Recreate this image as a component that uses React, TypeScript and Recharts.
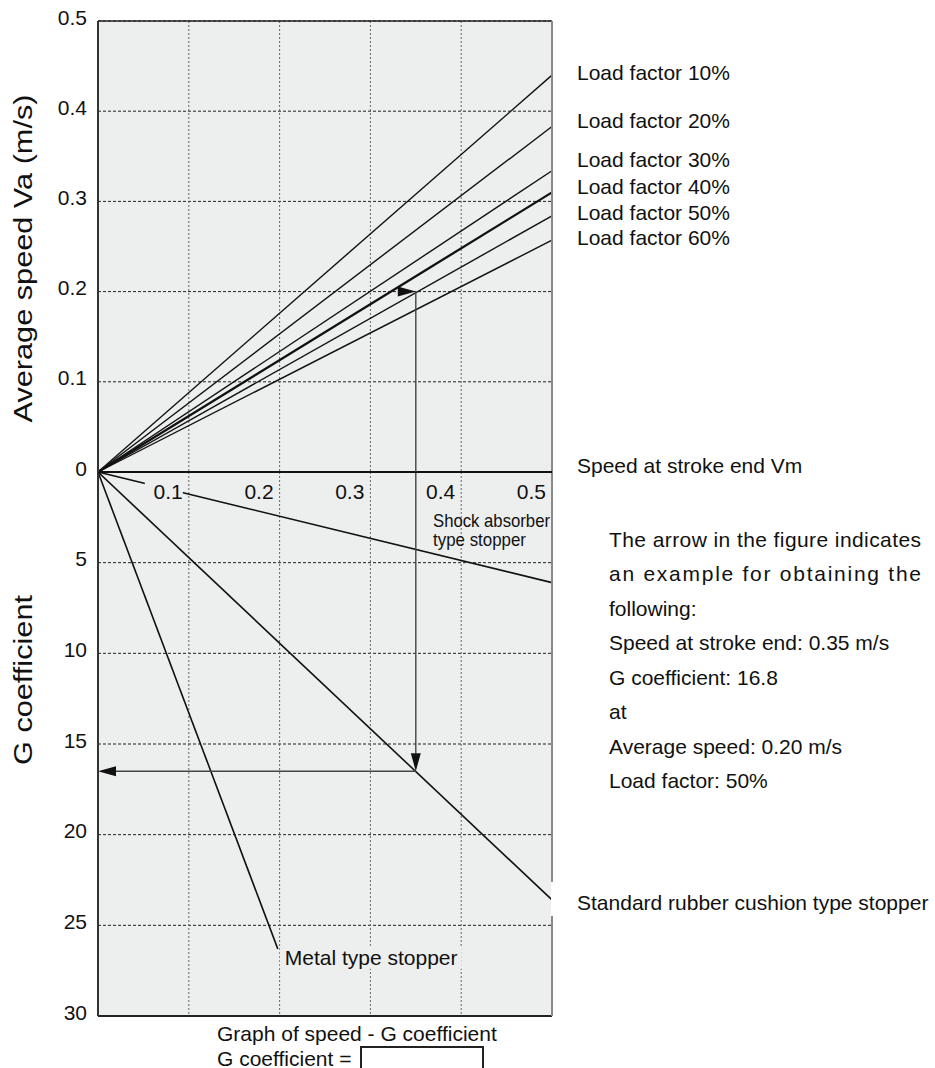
import React from "react";
import {
  ComposedChart,
  Line,
  XAxis,
  YAxis,
  CartesianGrid,
  ReferenceLine,
  ReferenceDot,
  Label,
} from "recharts";

const FONT = '"Liberation Sans", Arial, Helvetica, sans-serif';
const PLOT_BG = "#edeeee";

// speed at stroke end Vm (m/s), shared x axis
const vmTicks = [0.1, 0.2, 0.3, 0.4, 0.5];
// upper half: average speed Va (m/s)
const vaTicks = [0, 0.1, 0.2, 0.3, 0.4, 0.5];
// lower half: G coefficient
const gTicks = [5, 10, 15, 20, 25, 30];

const loadFactors = ["10%", "20%", "30%", "40%", "50%", "60%"];
// Va at Vm = 0.5
const vaAtVmEnd = [0.44, 0.383, 0.334, 0.31, 0.284, 0.257];
// Va level where each "Load factor" name is written
const loadLabelVa = [0.443, 0.39, 0.346, 0.316, 0.288, 0.26];

const stopperNames = ["Shock absorber type stopper", "Standard rubber cushion type stopper", "Metal type stopper"];
const stopperEndVm = [0.5, 0.5, 0.198];
const stopperEndG = [6.1, 23.6, 26.3];

// worked example (arrows)
const exVm = 0.35;
const exVa = 0.2;
const exG = 16.5;

const noteLines = [
  "The arrow in the figure indicates",
  "an example for obtaining the",
  "following:",
  "Speed at stroke end: 0.35 m/s",
  "G coefficient: 16.8",
  "at",
  "Average speed: 0.20 m/s",
  "Load factor: 50%",
];

const loadSeries = loadFactors.map((lf, i) => ({
  name: "Load factor " + lf,
  data: [
    { vm: 0, v: 0 },
    { vm: 0.5, v: vaAtVmEnd[i] },
  ],
}));

const stopperSeries = stopperNames.map((name, i) => ({
  name,
  data: [
    { vm: 0, v: 0 },
    { vm: stopperEndVm[i], v: stopperEndG[i] },
  ],
}));

const textStyle = { fontFamily: FONT, fontSize: 21, fill: "#111" };

const YTick = (p: any) => {
  const v = p.payload.value;
  const s = v === 0 ? "0" : v < 1 ? v.toFixed(1) : String(v);
  return (
    <text x={p.x} y={p.y - 4} textAnchor="end" dominantBaseline="central" {...textStyle}>
      {s}
    </text>
  );
};

const XTick = (p: any) => {
  const s = p.payload.value.toFixed(1);
  return (
    <g>
      <rect x={p.x - 44} y={p.y - 11} width={38} height={22} fill={PLOT_BG} />
      <text x={p.x - 6} y={p.y} textAnchor="end" dominantBaseline="central" {...textStyle}>
        {s}
      </text>
    </g>
  );
};

const axisTitle = (text: string, shift: number, len: number) => (p: any) => {
  const vb = p.viewBox || {};
  const cx = vb.x + 23;
  const cy = vb.y + vb.height / 2 + shift;
  return (
    <text
      x={cx}
      y={cy}
      transform={`rotate(-90 ${cx} ${cy})`}
      textAnchor="middle"
      dominantBaseline="central"
      fontFamily={FONT}
      fontSize={25}
      fill="#111"
      textLength={len}
      lengthAdjust="spacingAndGlyphs"
    >
      {text}
    </text>
  );
};

const arrowShape = (withLine: boolean) => (p: any) => {
  const { x1, y1, x2, y2 } = p;
  const len = Math.hypot(x2 - x1, y2 - y1) || 1;
  const ux = (x2 - x1) / len;
  const uy = (y2 - y1) / len;
  const hl = 18;
  const hw = 5;
  const bx = x2 - ux * hl;
  const by = y2 - uy * hl;
  return (
    <g>
      {withLine && <line x1={x1} y1={y1} x2={bx} y2={by} stroke="#444" strokeWidth={1.4} />}
      <polygon
        points={`${x2},${y2} ${bx - uy * hw},${by + ux * hw} ${bx + uy * hw},${by - ux * hw}`}
        fill="#111"
      />
    </g>
  );
};

const sideLabel = (text: string, dx: number, dy: number, bg?: { x: number; y: number; w: number; h: number; fill: string }) =>
  (p: any) => {
    const vb = p.viewBox || {};
    const x = vb.x + (vb.width || 0) / 2;
    const y = vb.y + (vb.height || 0) / 2;
    return (
      <g>
        {bg && <rect x={x + bg.x} y={y + bg.y} width={bg.w} height={bg.h} fill={bg.fill} />}
        <text x={x + dx} y={y + dy} dominantBaseline="central" {...textStyle}>
          {text}
        </text>
      </g>
    );
  };

const lineEndLabel = (text: string, dx: number, dy: number) => (p: any) => {
  const vb = p.viewBox || {};
  return (
    <text x={vb.x + vb.width + dx} y={vb.y + dy} dominantBaseline="central" {...textStyle}>
      {text}
    </text>
  );
};

const shockLabel = (p: any) => {
  const vb = p.viewBox || {};
  const x = vb.x - 119;
  const y = vb.y;
  const st = { fontFamily: FONT, fontSize: 18.5, fill: "#111" };
  return (
    <g>
      <text x={x} y={y - 62} dominantBaseline="central" textLength={117} lengthAdjust="spacingAndGlyphs" {...st}>
        Shock absorber
      </text>
      <text x={x} y={y - 43} dominantBaseline="central" textLength={93} lengthAdjust="spacingAndGlyphs" {...st}>
        type stopper
      </text>
    </g>
  );
};

export default function App() {
  return (
    <div
      style={{
        position: "absolute",
        left: 0,
        top: 0,
        width: 935,
        height: 1068,
        overflow: "hidden",
        background: "#fff",
        fontFamily: FONT,
        color: "#111",
      }}
    >
      {/* lower half: G coefficient */}
      <div style={{ position: "absolute", left: 0, top: 472 }}>
        <ComposedChart width={935} height={596} margin={{ top: 0, right: 383, bottom: 52, left: 0 }}>
          <XAxis
            type="number"
            dataKey="vm"
            domain={[0, 0.5]}
            ticks={vmTicks}
            interval={0}
            orientation="top"
            mirror
            height={1}
            axisLine={false}
            tickLine={false}
            tickSize={0}
            tickMargin={19}
            tick={<XTick />}
          />
          <YAxis
            type="number"
            domain={[0, 30]}
            reversed
            ticks={gTicks}
            interval={0}
            width={98}
            tickSize={0}
            tickMargin={11}
            tickLine={false}
            tick={<YTick />}
            axisLine={{ stroke: "#333", strokeWidth: 2 }}
            label={<Label content={axisTitle("G coefficient", -64, 170)} />}
          />
          <CartesianGrid vertical={false} stroke="#222" strokeDasharray="3 2" fill={PLOT_BG} />
          <CartesianGrid horizontal={false} stroke="#666" strokeDasharray="2 2" />
          {stopperSeries.map((s) => (
            <Line
              key={s.name}
              data={s.data}
              dataKey="v"
              name={s.name}
              stroke="#111"
              strokeWidth={1.6}
              dot={false}
              activeDot={false}
              isAnimationActive={false}
            />
          ))}
          <ReferenceLine y={30} stroke="#222" strokeWidth={2} />
          <ReferenceLine x={0.5} stroke="#8a8a8a" strokeWidth={2} />
          <ReferenceLine
            segment={[
              { x: exVm, y: 0 },
              { x: exVm, y: exG },
            ]}
            shape={arrowShape(true)}
          />
          <ReferenceLine
            segment={[
              { x: exVm, y: exG },
              { x: 0, y: exG },
            ]}
            shape={arrowShape(true)}
          />
          <ReferenceDot
            x={stopperEndVm[0]}
            y={stopperEndG[0]}
            r={0}
            fill="none"
            stroke="none"
            ifOverflow="visible"
            label={<Label content={shockLabel} />}
          />
          <ReferenceDot
            x={stopperEndVm[1]}
            y={stopperEndG[1]}
            r={0}
            fill="none"
            stroke="none"
            ifOverflow="visible"
            label={<Label content={sideLabel(stopperNames[1], 25, 3, { x: -1, y: -18, w: 372, h: 34, fill: "#fff" })} />}
          />
          <ReferenceDot
            x={stopperEndVm[2]}
            y={stopperEndG[2]}
            r={0}
            fill="none"
            stroke="none"
            ifOverflow="visible"
            label={<Label content={sideLabel(stopperNames[2], 7, 9, { x: 2, y: -3, w: 182, h: 23, fill: PLOT_BG })} />}
          />
        </ComposedChart>
      </div>

      {/* upper half: average speed */}
      <div style={{ position: "absolute", left: 0, top: 0 }}>
        <ComposedChart width={935} height={480} margin={{ top: 21, right: 383, bottom: 8, left: 0 }}>
          <XAxis type="number" dataKey="vm" domain={[0, 0.5]} ticks={vmTicks} hide />
          <YAxis
            type="number"
            domain={[0, 0.5]}
            ticks={vaTicks}
            interval={0}
            width={98}
            tickSize={0}
            tickMargin={11}
            tickLine={false}
            tick={<YTick />}
            axisLine={{ stroke: "#333", strokeWidth: 2 }}
            label={<Label content={axisTitle("Average speed Va (m/s)", 12, 328)} />}
          />
          <CartesianGrid vertical={false} stroke="#222" strokeDasharray="3 2" fill={PLOT_BG} />
          <CartesianGrid horizontal={false} stroke="#666" strokeDasharray="2 2" />
          {loadSeries.map((s, i) => (
            <Line
              key={s.name}
              data={s.data}
              dataKey="v"
              name={s.name}
              stroke="#111"
              strokeWidth={i === 3 ? 2.3 : 1.4}
              dot={false}
              activeDot={false}
              isAnimationActive={false}
            />
          ))}
          <ReferenceLine y={0.5} stroke="#222" strokeWidth={1.5} />
          <ReferenceLine x={0.5} stroke="#8a8a8a" strokeWidth={2} />
          <ReferenceLine
            y={0}
            stroke="#111"
            strokeWidth={2}
            label={<Label content={lineEndLabel("Speed at stroke end Vm", 25, -7)} />}
          />
          <ReferenceLine
            segment={[
              { x: exVm, y: exVa },
              { x: exVm, y: 0 },
            ]}
            stroke="#444"
            strokeWidth={1.4}
          />
          <ReferenceLine
            segment={[
              { x: 0, y: exVa },
              { x: exVm, y: exVa },
            ]}
            shape={arrowShape(false)}
          />
          {loadSeries.map((s, i) => (
            <ReferenceDot
              key={"lbl" + s.name}
              x={0.5}
              y={loadLabelVa[i]}
              r={0}
              fill="none"
              stroke="none"
              ifOverflow="visible"
              label={<Label content={sideLabel(s.name, 25, 0)} />}
            />
          ))}
        </ComposedChart>
      </div>

      {/* worked example note */}
      <svg style={{ position: "absolute", left: 0, top: 0 }} width={935} height={1068}>
        {noteLines.map((t, i) => (
          <text
            key={i}
            x={609}
            y={539 + i * 34.5}
            dominantBaseline="central"
            {...textStyle}
            {...(i < 2 ? { textLength: 312, lengthAdjust: "spacing" } : {})}
          >
            {t}
          </text>
        ))}
        <text x={217} y={1033} dominantBaseline="central" {...textStyle}>
          Graph of speed - G coefficient
        </text>
        <text x={217} y={1058} dominantBaseline="central" {...textStyle}>
          G coefficient =
        </text>
        <rect x={361} y={1047} width={122} height={40} fill="none" stroke="#222" strokeWidth={2} />
      </svg>
    </div>
  );
}
